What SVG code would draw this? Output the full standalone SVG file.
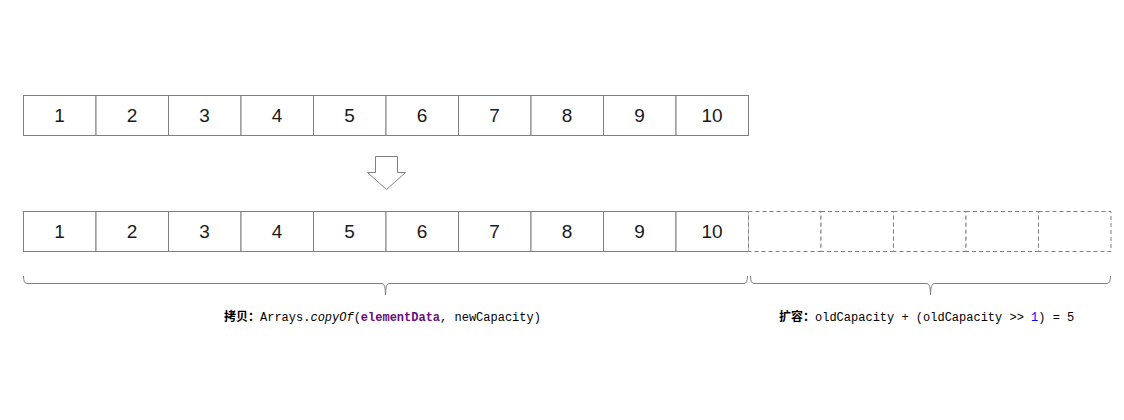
<svg xmlns="http://www.w3.org/2000/svg" width="1124" height="420" viewBox="0 0 1124 420">
<style>
.cell{fill:#fff;stroke:#808080;stroke-width:1}
.dcell{fill:#fff;stroke:#808080;stroke-width:1;stroke-dasharray:4 3}
.num{font-family:"Liberation Sans",Arial,sans-serif;font-size:19px;fill:#1a1a1a;text-anchor:middle}
.brace{fill:none;stroke:#808080;stroke-width:1}
.lbl{font-family:"Liberation Mono","Noto Sans CJK SC",monospace;font-size:12px;fill:#000}
.cjk{font-family:"Noto Sans CJK SC",sans-serif;font-weight:bold}
</style>
<rect width="1124" height="420" fill="#fff"/>
<g id="row1">
<rect class="cell" x="23.5" y="95.5" width="72.5" height="40"/>
<rect class="cell" x="96" y="95.5" width="72.5" height="40"/>
<rect class="cell" x="168.5" y="95.5" width="72.5" height="40"/>
<rect class="cell" x="241" y="95.5" width="72.5" height="40"/>
<rect class="cell" x="313.5" y="95.5" width="72.5" height="40"/>
<rect class="cell" x="386" y="95.5" width="72.5" height="40"/>
<rect class="cell" x="458.5" y="95.5" width="72.5" height="40"/>
<rect class="cell" x="531" y="95.5" width="72.5" height="40"/>
<rect class="cell" x="603.5" y="95.5" width="72.5" height="40"/>
<rect class="cell" x="676" y="95.5" width="72.5" height="40"/>
<text class="num" x="59.5" y="122">1</text>
<text class="num" x="132" y="122">2</text>
<text class="num" x="204.5" y="122">3</text>
<text class="num" x="277" y="122">4</text>
<text class="num" x="349.5" y="122">5</text>
<text class="num" x="422" y="122">6</text>
<text class="num" x="494.5" y="122">7</text>
<text class="num" x="567" y="122">8</text>
<text class="num" x="639.5" y="122">9</text>
<text class="num" x="712" y="122">10</text>
</g>
<g id="arrow">
<polygon points="375.5,156.5 397.5,156.5 397.5,172.5 405.5,172.5 386.5,189.5 367.5,172.5 375.5,172.5" fill="#fff" stroke="#808080" stroke-width="1"/>
</g>
<g id="row2">
<rect class="cell" x="23.5" y="211.5" width="72.5" height="40"/>
<rect class="cell" x="96" y="211.5" width="72.5" height="40"/>
<rect class="cell" x="168.5" y="211.5" width="72.5" height="40"/>
<rect class="cell" x="241" y="211.5" width="72.5" height="40"/>
<rect class="cell" x="313.5" y="211.5" width="72.5" height="40"/>
<rect class="cell" x="386" y="211.5" width="72.5" height="40"/>
<rect class="cell" x="458.5" y="211.5" width="72.5" height="40"/>
<rect class="cell" x="531" y="211.5" width="72.5" height="40"/>
<rect class="cell" x="603.5" y="211.5" width="72.5" height="40"/>
<rect class="cell" x="676" y="211.5" width="72.5" height="40"/>
<text class="num" x="59.5" y="238">1</text>
<text class="num" x="132" y="238">2</text>
<text class="num" x="204.5" y="238">3</text>
<text class="num" x="277" y="238">4</text>
<text class="num" x="349.5" y="238">5</text>
<text class="num" x="422" y="238">6</text>
<text class="num" x="494.5" y="238">7</text>
<text class="num" x="567" y="238">8</text>
<text class="num" x="639.5" y="238">9</text>
<text class="num" x="712" y="238">10</text>
</g>
<g id="newcells">
<rect class="dcell" x="748.5" y="211.5" width="72.5" height="40"/>
<rect class="dcell" x="821" y="211.5" width="72.5" height="40"/>
<rect class="dcell" x="893.5" y="211.5" width="72.5" height="40"/>
<rect class="dcell" x="966" y="211.5" width="72.5" height="40"/>
<rect class="dcell" x="1038.5" y="211.5" width="72.5" height="40"/>
</g>
<g id="connectors">
<path class="brace" d="M23.5,276 Q23.5,283.5 27,283.5 L382,283.5 Q385.5,283.5 385.5,295 Q385.5,283.5 389,283.5 L744,283.5 Q747.5,283.5 747.5,276"/>
<path class="brace" d="M750.5,276 Q750.5,283.5 754,283.5 L927,283.5 Q930.5,283.5 930.5,295 Q930.5,283.5 934,283.5 L1107,283.5 Q1110.5,283.5 1110.5,276"/>
</g>
<g id="label-copy">
<text class="lbl" x="224" y="321"><tspan class="cjk">拷贝：</tspan>Arrays.<tspan font-style="italic">copyOf</tspan>(<tspan font-weight="bold" fill="#660e7a">elementData</tspan>, newCapacity)</text>
</g>
<g id="label-grow">
<text class="lbl" x="779" y="321"><tspan class="cjk">扩容：</tspan>oldCapacity + (oldCapacity &gt;&gt; <tspan fill="#0000ff">1</tspan>) = 5</text>
</g>
</svg>
